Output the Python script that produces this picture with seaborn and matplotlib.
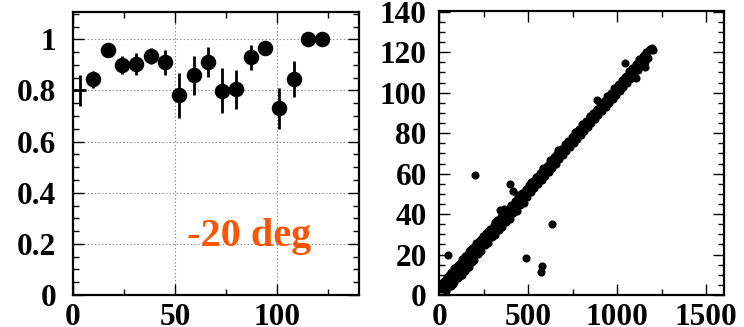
import matplotlib
matplotlib.use("Agg")
import matplotlib.pyplot as plt
import seaborn as sns
import pandas as pd
from matplotlib.ticker import MultipleLocator, FuncFormatter

# ---------------- data: left panel (efficiency vs. x) ----------------
eff_x = [10, 17, 24, 31, 38, 45, 52, 59, 66, 73, 80, 87, 94, 101, 108, 115, 122]
eff_y = [0.843, 0.958, 0.900, 0.903, 0.935, 0.910, 0.782, 0.859, 0.912, 0.799,
         0.804, 0.930, 0.967, 0.730, 0.845, 1.000, 1.000]
eff_err = [0.033, 0.020, 0.035, 0.044, 0.030, 0.050, 0.088, 0.075, 0.058, 0.088,
           0.077, 0.049, 0.020, 0.081, 0.071, 0.0, 0.0]
first_x = [3.3]
first_y = [0.80]
first_yerr = [0.061]
first_xerr = [3.3]
label_text = "-20 deg"

# ---------------- data: right panel (correlation scatter) ----------------
line_x = [20, 30, 40, 50, 60, 70, 80, 90, 100, 110, 120, 130, 140, 150, 160, 170, 180, 190,
          200, 210, 220, 230, 240, 250, 260, 270, 280, 290, 300, 310, 320, 330, 340, 350,
          360, 370, 380, 390, 400, 410, 420, 430, 440, 450, 460, 470, 480, 490, 500, 510,
          520, 530, 540, 550, 560, 570, 580, 590, 600, 610, 620, 630, 640, 650, 660, 670,
          680, 690, 700, 710, 720, 730, 740, 750, 760, 770, 780, 790, 800, 810, 820, 830,
          840, 850, 860, 870, 880, 890, 900, 910, 920, 930, 940, 950, 960, 970, 980, 990,
          1000, 1010, 1020, 1030, 1040, 1050, 1060, 1070, 1080, 1090, 1100, 1110, 1120,
          1130, 1140, 1150, 1160, 1170, 1180, 1190, 1200]
line_y = [4.8, 3.9, 6.3, 8.5, 7.4, 7.6, 10.9, 11.1, 11.1, 14.2, 14.8, 13.9, 16.3, 18.5, 17.4,
          17.6, 20.9, 21.1, 21.1, 24.2, 24.8, 23.9, 26.3, 28.5, 27.4, 27.6, 30.9, 31.1, 31.1,
          34.2, 34.8, 33.9, 36.3, 38.5, 37.4, 37.6, 40.9, 41.1, 41.1, 44.2, 44.8, 43.9, 46.3,
          48.5, 47.4, 47.6, 50.9, 51.1, 51.1, 54.2, 54.8, 53.9, 56.3, 58.5, 57.4, 57.6, 60.9,
          61.1, 61.1, 64.2, 64.8, 63.9, 66.3, 68.5, 67.4, 67.6, 70.9, 71.1, 71.1, 74.2, 74.8,
          73.9, 76.3, 78.5, 77.4, 77.6, 80.9, 81.1, 81.1, 84.2, 84.8, 83.9, 86.3, 88.5, 87.4,
          87.6, 90.9, 91.1, 91.1, 94.2, 94.8, 93.9, 96.3, 98.5, 97.4, 97.6, 100.9, 101.1,
          101.1, 104.2, 104.8, 103.9, 106.3, 108.5, 107.4, 107.6, 110.9, 111.1, 111.1, 114.2,
          114.8, 113.9, 116.3, 118.5, 117.4, 117.6, 120.9, 121.1, 121.1]
upper_x = [25, 45, 65, 85, 105, 125, 145, 165, 185, 205, 225, 245, 265, 285, 305, 325, 345,
           365, 385, 405, 425, 445, 465, 485, 505, 525, 545, 565, 585, 605, 625, 645, 665,
           685, 705, 725, 745, 765, 785, 805, 825, 845, 865, 885, 905, 925, 945, 965, 985,
           1005, 1025, 1045, 1065, 1085, 1105, 1125, 1145, 1165, 1185]
upper_y = [7.0, 9.0, 11.5, 13.5, 15.0, 18.0, 19.5, 21.5, 23.0, 25.5, 26.5, 29.0, 30.5, 32.5,
           34.5, 37.0, 38.5, 40.5, 42.5, 44.5, 46.5, 48.5, 50.5, 52.5, 54.5, 56.5, 58.5, 60.5,
           62.5, 64.0, 66.5, 68.0, 70.5, 72.0, 74.5, 76.0, 78.0, 80.5, 82.0, 84.5, 86.0, 88.5,
           90.0, 92.0, 94.5, 96.0, 98.5, 100.0, 102.5, 104.0, 106.5, 108.0, 110.5, 112.0,
           114.0, 116.5, 118.0, 120.0, 121.5]
lower_x = [35, 55, 75, 95, 115, 135, 155, 175, 195, 215, 235, 255, 275, 295, 315, 335, 355,
           375, 395, 415, 435, 455, 475, 495, 515, 535, 555, 575, 595, 615, 635, 655, 675,
           695, 715, 735, 755, 775, 795, 815, 835, 855, 875, 895, 915, 935, 955, 975, 995,
           1015, 1035, 1055, 1075, 1095, 1115, 1135, 1155, 1175]
lower_y = [2.0, 4.5, 5.5, 8.5, 9.5, 12.5, 13.5, 16.5, 17.5, 20.5, 21.5, 24.5, 25.5, 28.5,
           29.5, 32.5, 33.5, 36.5, 37.5, 40.5, 41.5, 44.5, 45.5, 48.5, 51.0, 53.0, 55.0, 57.0,
           59.0, 61.0, 63.0, 65.0, 67.0, 69.0, 71.0, 73.0, 75.0, 77.0, 79.0, 81.0, 83.0, 85.0,
           87.0, 89.0, 91.0, 93.0, 95.0, 97.0, 99.0, 101.0, 103.0, 105.0, 107.0, 109.0, 111.0,
           113.0, 115.0, 117.0]
band_x = [5, 10, 15, 25, 35, 45, 55, 65, 75, 85, 95, 105, 115, 125, 135, 145, 155, 165, 175,
          185, 195, 215, 235, 255, 275, 295, 315, 335, 355, 365, 375, 445, 515, 585, 655,
          665, 735, 805, 875, 945, 1015, 1085, 1155, 1195]
band_y = [3.5, 3.0, 6.0, 2.8, 8.0, 3.5, 10.0, 4.5, 12.0, 6.5, 14.0, 8.5, 16.0, 10.0, 18.0,
          12.0, 20.0, 14.0, 22.0, 16.5, 23.5, 21.0, 27.5, 25.0, 31.5, 29.0, 36.0, 32.0, 40.0,
          42.5, 36.0, 49.5, 56.0, 63.0, 69.0, 71.5, 76.0, 82.0, 89.0, 94.5, 102.5, 111.5,
          118.5, 122.0]
outlier_x = [47, 200, 395, 415, 636, 486, 576, 572, 1044, 1157, 1106, 885, 340]
outlier_y = [19.6, 59.3, 54.9, 51.4, 35.0, 18.1, 14.3, 11.2, 114.6, 112.6, 107.3, 96.4, 42.0]

# ---------------- styling ----------------
sns.set_theme(style="white")
plt.rcParams["font.family"] = ["Liberation Serif", "DejaVu Serif"]
plt.rcParams["font.weight"] = "bold"
plt.rcParams["text.color"] = "black"
plt.rcParams["xtick.color"] = "black"
plt.rcParams["ytick.color"] = "black"
plt.rcParams["xtick.labelcolor"] = "black"
plt.rcParams["ytick.labelcolor"] = "black"

fig = plt.figure(figsize=(7.44, 3.27), dpi=100)
ax1 = fig.add_axes([0.0981, 0.0979, 0.3844, 0.8654])
ax2 = fig.add_axes([0.5905, 0.0979, 0.3831, 0.8685])

df_eff = pd.DataFrame({"x": eff_x, "y": eff_y, "err": eff_err})
df_first = pd.DataFrame({"x": first_x, "y": first_y})

# left panel
ax1.set_axisbelow(True)
ax1.errorbar(df_eff["x"], df_eff["y"], yerr=df_eff["err"], fmt="none",
             ecolor="black", elinewidth=2.0, capsize=0, zorder=2)
ax1.errorbar(df_first["x"], df_first["y"], yerr=first_yerr, xerr=first_xerr, fmt="none",
             ecolor="black", elinewidth=2.0, capsize=0, zorder=2)
sns.scatterplot(data=df_eff, x="x", y="y", ax=ax1, color="black", s=125,
                edgecolor="black", linewidth=0, zorder=3, legend=False)
ax1.set_xlim(0, 140)
ax1.set_ylim(0, 1.107)
ax1.xaxis.set_major_locator(MultipleLocator(50))
ax1.xaxis.set_minor_locator(MultipleLocator(25))
ax1.yaxis.set_major_locator(MultipleLocator(0.2))
ax1.yaxis.set_minor_locator(MultipleLocator(0.05))
ax1.yaxis.set_major_formatter(FuncFormatter(lambda v, p: "%g" % round(v, 2)))
ax1.grid(True, which="major", color="#888888", linestyle=(0, (1.2, 2.0)), linewidth=0.8)
ax1.text(56, 0.19, label_text, color="#ff5500", fontsize=29, fontweight="bold",
         ha="left", va="baseline", zorder=4)

# right panel
df_line = pd.DataFrame({"x": line_x + upper_x + lower_x + band_x + outlier_x,
                        "y": line_y + upper_y + lower_y + band_y + outlier_y})
sns.scatterplot(data=df_line, x="x", y="y", ax=ax2, color="black", s=34,
                linewidth=0, legend=False)
ax2.set_xlim(0, 1603)
ax2.set_ylim(0, 140.4)
ax2.xaxis.set_major_locator(MultipleLocator(500))
ax2.xaxis.set_minor_locator(MultipleLocator(250))
ax2.yaxis.set_major_locator(MultipleLocator(20))
ax2.yaxis.set_minor_locator(MultipleLocator(5))

for ax, ypad in ((ax1, 12), (ax2, 9)):
    ax.set_xlabel("")
    ax.set_ylabel("")
    for sp in ax.spines.values():
        sp.set_visible(True)
        sp.set_color("black")
        sp.set_linewidth(1.6)
    ax.tick_params(which="both", direction="in", top=True, right=True,
                   bottom=True, left=True, color="black", width=1.0)
    ax.tick_params(which="major", length=8)
    ax.tick_params(which="minor", length=4)
    ax.tick_params(axis="x", which="major", pad=6, labelsize=22.5)
    ax.tick_params(axis="y", which="major", pad=ypad, labelsize=22.5)
    for lab in ax.get_xticklabels() + ax.get_yticklabels():
        lab.set_fontweight("bold")
        lab.set_color("black")

fig.savefig("out.png", dpi=100)
